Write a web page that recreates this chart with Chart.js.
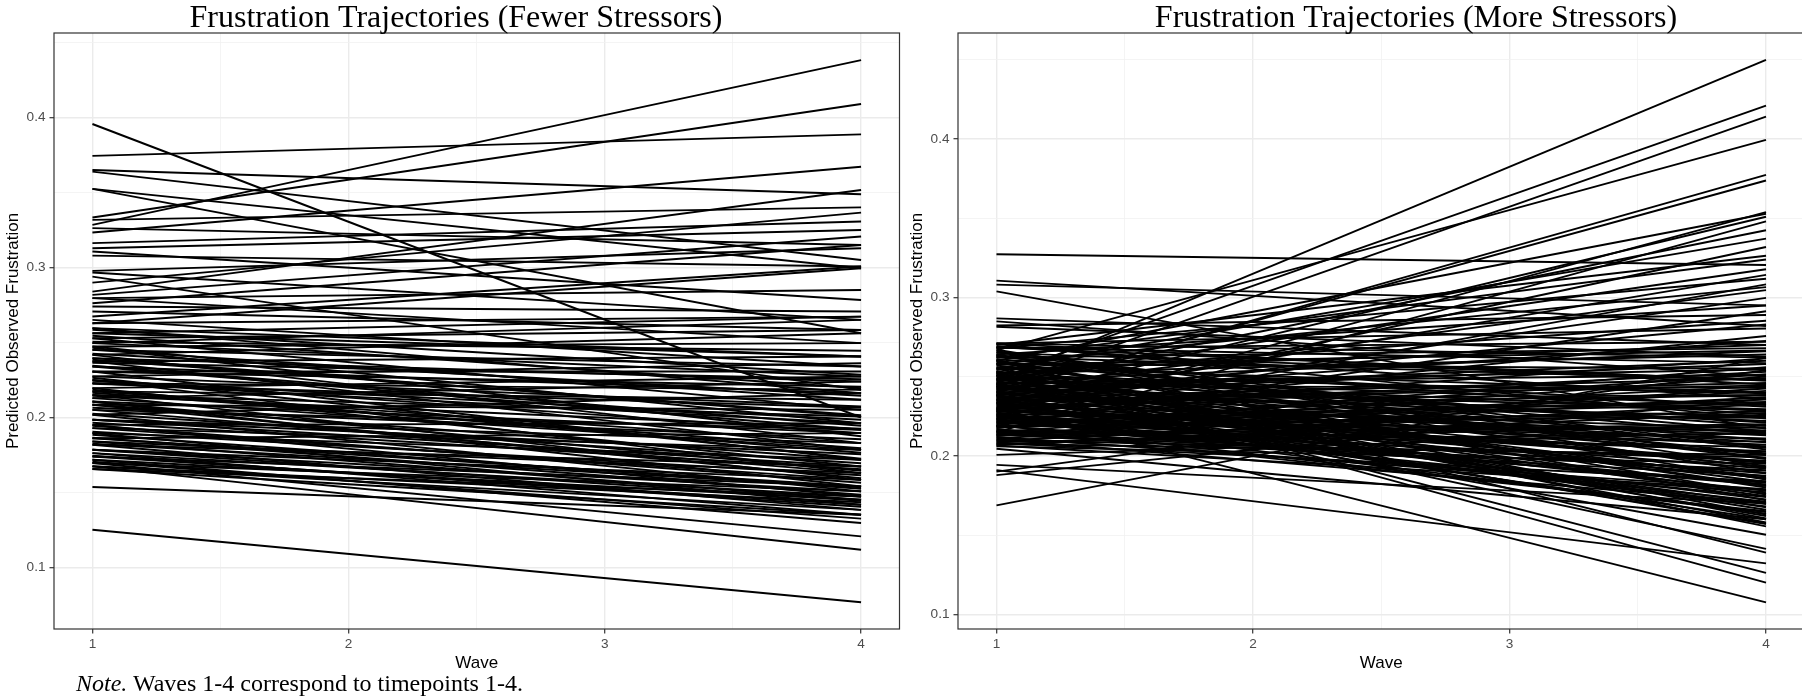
<!DOCTYPE html>
<html><head><meta charset="utf-8">
<script src="https://cdn.jsdelivr.net/npm/chart.js@4.4.0/dist/chart.umd.min.js"></script>
<style>
html,body{margin:0;padding:0;background:#fff;width:1802px;height:698px;overflow:hidden;position:relative}
canvas{position:absolute;top:0}
#c1{left:0}
#c2{left:904px}
#note{position:absolute;left:76px;top:671px;font-family:'Liberation Serif','Times New Roman',serif;font-size:24px;line-height:1;color:#000;white-space:nowrap}
</style></head><body>
<canvas id="c1" width="912" height="698"></canvas>
<canvas id="c2" width="1022" height="698"></canvas>
<div id="note"><i>Note.</i> Waves 1-4 correspond to timepoints 1-4.</div>
<script>
// ---- data ----
const waves = [1, 4];
const xTickValues = [1, 2, 3, 4];
const xTickLabels = ['1', '2', '3', '4'];
const yTickValues = [0.1, 0.2, 0.3, 0.4];
const yTickLabels = ['0.1', '0.2', '0.3', '0.4'];
const fewerTitle = 'Frustration Trajectories (Fewer Stressors)';
const moreTitle = 'Frustration Trajectories (More Stressors)';
const xAxisTitle = 'Wave';
const yAxisTitle = 'Predicted Observed Frustration';

const fewerWave1 = [
0.3958,0.3745,0.3651,0.3640,0.3525,0.3525,0.3334,0.3318,0.3285,0.3263,
0.3234,0.3163,0.3129,0.3107,0.3080,0.2978,0.2967,0.2940,0.2900,0.2840,
0.2818,0.2796,0.2796,0.2762,0.2740,0.2707,0.2674,0.2651,0.2629,0.2629,
0.2596,0.2596,
0.2562,0.2562,0.2529,0.2529,0.2496,0.2496,0.2474,0.2474,0.2451,0.2451,
0.2418,0.2418,0.2396,0.2396,0.2374,0.2374,0.2340,0.2340,0.2307,0.2307,
0.2274,0.2274,0.2251,0.2251,0.2229,0.2229,0.2196,0.2196,0.2174,0.2174,
0.2151,0.2151,0.2129,0.2129,0.2107,0.2107,0.2085,0.2085,0.2051,0.2051,
0.2018,0.2018,0.1985,0.1985,0.1951,0.1951,0.1929,0.1929,0.1896,0.1896,
0.1862,0.1862,0.1840,0.1840,0.1818,0.1818,0.1785,0.1785,0.1762,0.1762,
0.1740,0.1740,0.1718,0.1718,0.1696,0.1696,0.1674,0.1674,0.1656,0.1656,
0.1536,0.1251,
0.2585,0.2545,0.2505,0.2465,0.2425,0.2385,0.2345,0.2305,0.2265,0.2225,
0.2185,0.2145,0.2105,0.2065,0.2025,0.1985,0.1945,0.1905,0.1865,0.1825,
0.1785,0.1745,0.1705,0.1675,0.2245,0.2165,0.2085,0.1965,0.1885,0.2365
];
const fewerWave4 = [
0.2000,0.3889,0.3489,0.3051,0.2996,0.2562,0.4091,0.3402,0.4384,0.3151,
0.3673,0.3307,0.3251,0.2784,0.3007,0.3129,0.2651,0.2184,0.3367,0.3518,
0.3207,0.2851,0.2496,0.3151,0.2707,0.2584,0.3007,0.2340,0.2673,0.2996,
0.2407,0.2162,
0.2407,0.2673,0.2051,0.2584,0.2273,0.2651,0.1962,0.2496,0.2340,0.2118,
0.1829,0.2562,0.2240,0.2007,0.1784,0.2407,0.2162,0.1918,0.2307,0.1718,
0.2073,0.2362,0.1896,0.1629,0.2184,0.1962,0.1673,0.2273,0.1829,0.2118,
0.1584,0.2007,0.2240,0.1784,0.1896,0.1540,0.2051,0.1718,0.1629,0.1918,
0.1507,0.2162,0.1673,0.1829,0.1473,0.1962,0.1584,0.1784,0.1418,0.1718,
0.1540,0.1896,0.1451,0.1629,0.1384,0.1673,0.1507,0.1584,0.1351,0.1473,
0.1418,0.1540,0.1296,0.1451,0.1207,0.1507,0.1118,0.1384,0.1473,0.1351,
0.1351,0.0767,
0.2285,0.2195,0.2445,0.1875,0.2145,0.2015,0.1945,0.2205,0.1725,0.2065,
0.1765,0.1925,0.1645,0.1855,0.1695,0.1755,0.1565,0.1615,0.1485,0.1535,
0.1445,0.1405,0.1325,0.1435,0.1985,0.1795,0.1595,0.1655,0.1525,0.2255
];

const moreWave1 = [
0.3272,0.3106,0.3081,0.3038,0.2868,0.2849,0.2823,0.2815,0.2710,
0.1687,0.1878,0.1900,0.1910,0.1943,0.2006,0.2045,
0.2475,0.2505,0.2435,0.2666,0.2397,0.2404,0.2230,0.2600,0.2350,0.2150,
0.2450,0.2550,0.2280,0.2700,0.2620,0.2480,0.2330,0.2680,0.2210,0.2580,
0.2420,0.2300,0.2640,0.2190,0.2520,0.2380,0.2710,0.2260,
0.2296,0.2527,0.2515,0.2600,0.2450,0.2380,
0.271,0.269,0.268,0.266,0.265,0.264,0.262,0.261,0.260,0.258,
0.257,0.256,0.255,0.253,0.252,0.251,0.250,0.249,0.247,0.246,
0.245,0.244,0.243,0.242,0.241,0.240,0.239,0.238,0.237,0.236,
0.235,0.234,0.233,0.232,0.231,0.230,0.229,0.228,0.227,0.226,
0.225,0.224,0.223,0.222,0.221,0.220,0.219,0.218,0.217,0.216,
0.215,0.214,0.213,0.212,0.211,0.210,0.209,0.208,0.207,0.206,
0.2535,0.2485,0.2445,0.2405,0.2365,0.2325,0.2285,0.2245,0.2205,0.2165,
0.2125,0.2545,0.2475,0.2415,0.2355,0.2295,0.2235,0.2175,0.2115,0.2590,
0.2630,0.2670,0.2385,0.2265,0.2145,
0.2705,0.2685,0.2655,0.2625,0.2605,0.2575,0.2555,0.2525,0.2505,0.2495,
0.2465,0.2455,0.2435,0.2425,0.2395,0.2375,0.2345,0.2335,0.2315,0.2305,
0.2275,0.2255,0.2225,0.2215,0.2195,0.2185,0.2155,0.2135,0.2105,0.2085,
0.2075,0.2065,0.2095,0.2135,0.2185,0.2235,0.2285,0.2335,0.2385,0.2435,
0.2485,0.2535,0.2585,0.2635,0.2685,0.2455,0.2355,0.2255,0.2155,0.2505
];
const moreWave4 = [
0.3205,0.2820,0.2950,0.2170,0.2700,0.2500,0.2889,0.2626,0.2450,
0.2620,0.2360,0.2540,0.1321,0.1700,0.2150,0.1600,
0.4500,0.4211,0.4141,0.3994,0.3774,0.3738,0.3538,0.3528,0.3509,0.3480,
0.3424,0.3371,0.3318,0.3263,0.3239,0.3178,0.3142,0.3118,0.3082,0.3065,
0.3046,0.2997,0.2949,0.2913,0.2853,0.2829,0.2804,0.2756,
0.1075,0.1200,0.1261,0.1389,0.1413,0.1502,
0.262,0.236,0.272,0.205,0.248,0.185,0.268,0.226,0.172,0.255,
0.198,0.240,0.163,0.219,0.264,0.181,0.232,0.158,0.210,0.251,
0.176,0.243,0.193,0.222,0.166,0.258,0.201,0.187,0.229,0.170,
0.246,0.213,0.160,0.238,0.196,0.178,0.253,0.207,0.168,0.224,
0.189,0.234,0.174,0.216,0.203,0.244,0.183,0.228,0.165,0.209,
0.250,0.191,0.220,0.177,0.237,0.199,0.214,0.184,0.227,0.195,
0.180,0.221,0.162,0.206,0.249,0.186,0.215,0.171,0.233,0.197,
0.241,0.270,0.266,0.260,0.225,0.192,0.211,0.256,0.179,0.231,
0.204,0.189,0.157,0.182,0.218,
0.2235,0.2585,0.1935,0.2475,0.1755,0.2665,0.2135,0.1605,0.2395,0.2015,
0.1855,0.2545,0.1675,0.2295,0.2085,0.1575,0.2445,0.1955,0.2175,0.1725,
0.2615,0.2025,0.1815,0.2355,0.1645,0.2255,0.1905,0.2425,0.1705,0.2195,
0.2005,0.1785,0.2325,0.1875,0.2515,0.1635,0.2105,0.1965,0.2725,0.1745,
0.2285,0.1555,0.2155,0.1985,0.2475,0.1835,0.2385,0.1695,0.2055,0.1925
];

// ---- styling / chart construction ----
const SANS = "'Liberation Sans', Arial, Helvetica, sans-serif";
const SERIF = "'Liberation Serif', 'Times New Roman', Times, serif";
const near = (a, b) => Math.abs(a - b) < 1e-9;

function withMinors(majors, lo, hi) {
  const step = majors[1] - majors[0];
  const out = [];
  const first = majors[0] - step / 2;
  for (let i = 0; i <= majors.length; i++) {
    const minor = first + i * step;
    if (minor >= lo && minor <= hi) out.push(minor);
    if (i < majors.length) out.push(majors[i]);
  }
  return out.sort((a, b) => a - b);
}

const framePlugin = {
  id: 'panelFrame',
  afterDatasetsDraw(chart) {
    const { ctx, chartArea: a } = chart;
    ctx.save();
    ctx.strokeStyle = '#333333';
    ctx.lineWidth = 1.2;
    ctx.strokeRect(a.left, a.top, a.right - a.left, a.bottom - a.top);
    ctx.restore();
  }
};

const panelTitlePlugin = {
  id: 'panelTitle',
  afterDraw(chart, args, opts) {
    const ctx = chart.ctx;
    ctx.save();
    ctx.fillStyle = '#000000';
    ctx.font = '32px ' + SERIF;
    ctx.textAlign = 'center';
    ctx.textBaseline = 'alphabetic';
    ctx.fillText(opts.text, opts.x, opts.y);
    ctx.restore();
  }
};

function gridOpts(majors) {
  const isMajor = v => majors.some(t => near(t, v));
  return {
    color: c => (c.tick && isMajor(c.tick.value)) ? '#EBEBEB' : '#F1F1F1',
    lineWidth: c => (c.tick && isMajor(c.tick.value)) ? 1.4 : 0.8,
    tickColor: c => (c.tick && isMajor(c.tick.value)) ? '#333333' : 'rgba(0,0,0,0)',
    tickLength: 4.5,
    tickWidth: 1.2,
    drawOnChartArea: true,
    drawTicks: true
  };
}

function makeChart(id, title, titleX, w1, w4, yMin, yMax, padRight) {
  const datasets = w1.map((a, i) => ({
    data: [{ x: waves[0], y: a }, { x: waves[1], y: w4[i] }],
    borderColor: '#000000',
    borderWidth: 1.9,
    pointRadius: 0,
    pointHoverRadius: 0,
    fill: false,
    tension: 0
  }));
  const xMin = 0.85, xMax = 4.15;
  const xGrid = withMinors(xTickValues, xMin, xMax);
  const yGrid = withMinors(yTickValues, yMin, yMax);
  return new Chart(document.getElementById(id), {
    type: 'line',
    data: { datasets },
    options: {
      responsive: false,
      animation: false,
      devicePixelRatio: 1,
      events: [],
      layout: { padding: { left: 0, right: padRight, top: 33, bottom: 24 } },
      plugins: {
        legend: { display: false },
        tooltip: { enabled: false },
        title: { display: false },
        panelTitle: { text: title, x: titleX, y: 27 }
      },
      scales: {
        x: {
          type: 'linear', min: xMin, max: xMax,
          afterBuildTicks: s => { s.ticks = xGrid.map(v => ({ value: v })); },
          afterFit: s => { s.height = 45; },
          ticks: {
            autoSkip: false, maxRotation: 0, padding: 3,
            color: '#4D4D4D', font: { family: SANS, size: 13.6 },
            callback: v => { const i = xTickValues.findIndex(t => near(t, v)); return i >= 0 ? xTickLabels[i] : ''; }
          },
          grid: gridOpts(xTickValues),
          border: { display: false },
          title: {
            display: true, text: xAxisTitle, color: '#000000',
            font: { family: SANS, size: 17, lineHeight: 1 },
            padding: { top: 0, bottom: 2.5 }
          }
        },
        y: {
          type: 'linear', min: yMin, max: yMax,
          afterBuildTicks: s => { s.ticks = yGrid.map(v => ({ value: v })); },
          afterFit: s => { s.width = 54; },
          ticks: {
            autoSkip: false, padding: 4,
            color: '#4D4D4D', font: { family: SANS, size: 13.6 },
            callback: v => { const i = yTickValues.findIndex(t => near(t, v)); return i >= 0 ? yTickLabels[i] : ''; }
          },
          grid: gridOpts(yTickValues),
          border: { display: false },
          title: {
            display: true, text: yAxisTitle, color: '#000000',
            font: { family: SANS, size: 17, lineHeight: 1 },
            padding: { top: 4.5, bottom: 0 }
          }
        }
      }
    },
    plugins: [framePlugin, panelTitlePlugin]
  });
}

makeChart('c1', fewerTitle, 456, fewerWave1, fewerWave4, 0.0589, 0.4565, 12.5);
makeChart('c2', moreTitle, 512, moreWave1, moreWave4, 0.0907, 0.4669, 121.5);
</script>
</body></html>
